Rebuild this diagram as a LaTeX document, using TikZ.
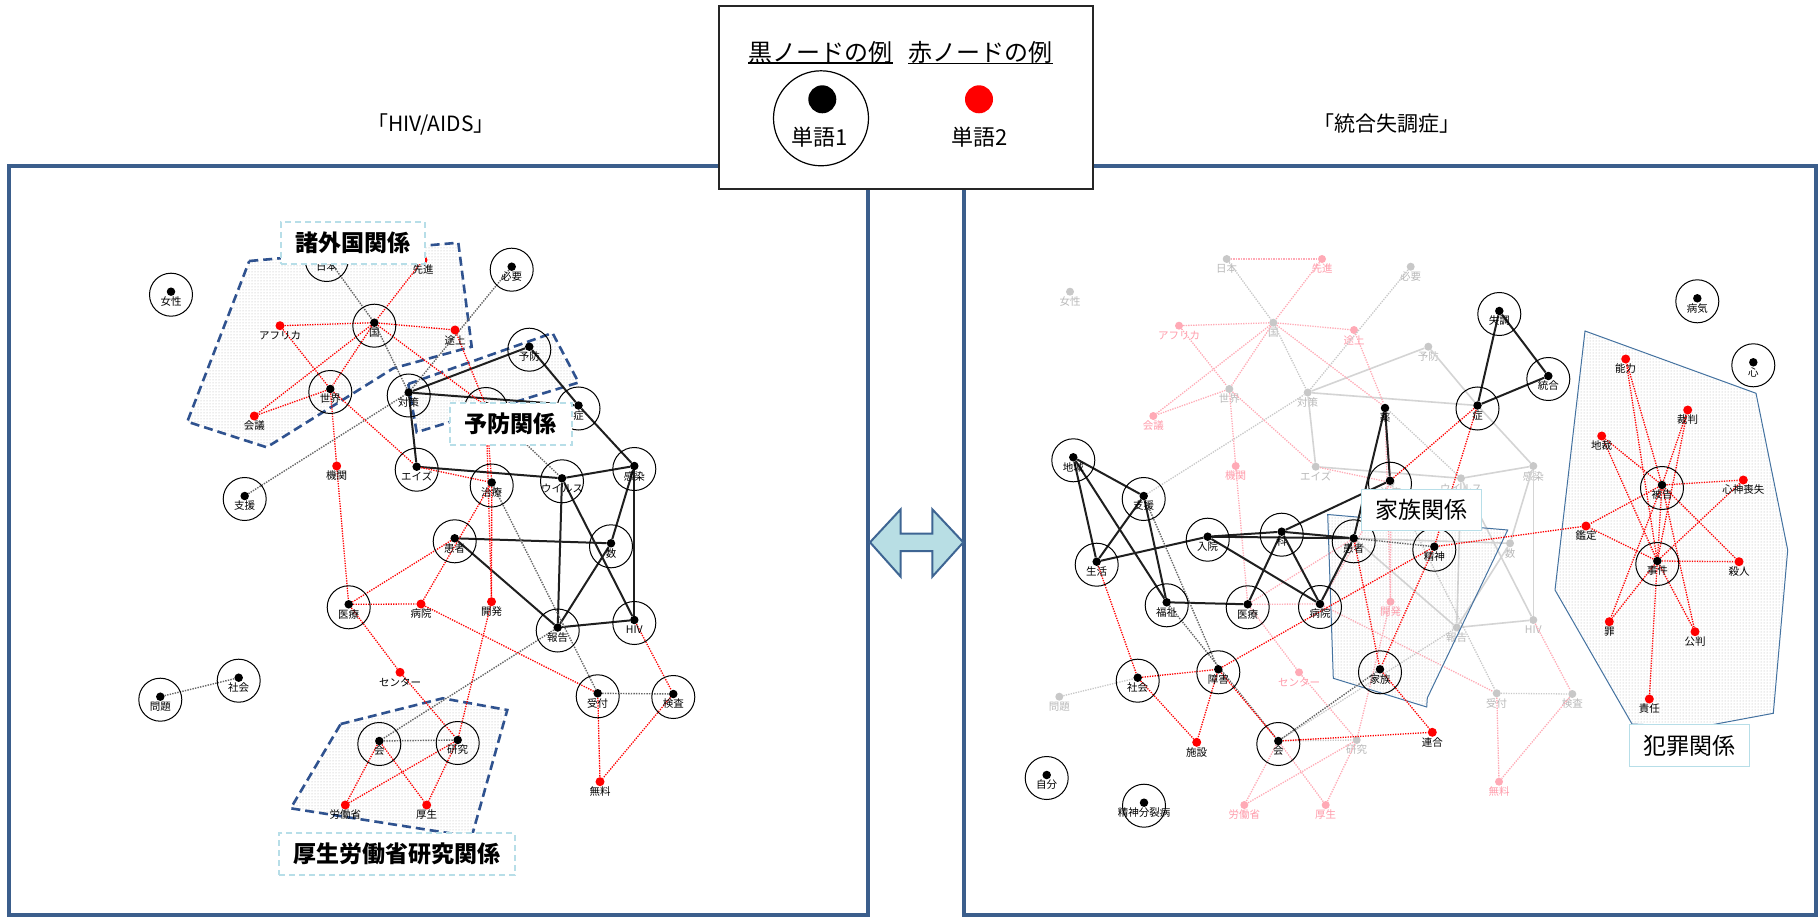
\documentclass[tikz,border=0pt]{standalone}
\usepackage{fontspec}
\setmainfont{Noto Sans CJK JP}
\usetikzlibrary{patterns}
\definecolor{frameblue}{RGB}{59,94,140}
\definecolor{polyblue}{RGB}{47,82,143}
\definecolor{boxblue}{RGB}{183,222,232}
\definecolor{polyR}{RGB}{68,114,160}
\definecolor{arrowfill}{RGB}{184,222,228}
\definecolor{arrowline}{RGB}{62,101,147}
\definecolor{fgray}{RGB}{200,200,200}
\definecolor{fgraytext}{RGB}{185,185,185}
\definecolor{fpink}{RGB}{255,170,182}
\definecolor{fpinktext}{RGB}{255,155,170}
\definecolor{fline}{RGB}{212,212,212}
\pgfdeclarelayer{bgw}\pgfdeclarelayer{fade}\pgfdeclarelayer{poly}\pgfdeclarelayer{edges}\pgfdeclarelayer{top}
\pgfsetlayers{bgw,fade,poly,edges,main,top}
% ---------- node lists ----------
\def\LB{josei/171/291.7/女性, nihon/326.7/257/日本, hitsuyo/511.7/266.7/必要, kuni/374.3/322.7/国, yobo/529.3/346.7/予防, sekai/330.3/389/世界, taisaku/408.7/392.5/対策, sho/578.5/405.5/症, eizu/416.7/466.7/エイズ, chiryo/491.7/482.5/治療, virus/562/478.3/ウイルス, kansen/634.3/466/感染, shien/244.7/496/支援, kanja/454.7/538.3/患者, su/611/543.3/数, iryo/348.7/604.3/医療, hokoku/557.7/627.5/報告, hiv/634.3/620/HIV, shakai/238.7/677.7/社会, mondai/160.3/696.7/問題, uketsuke/597.7/693.3/受付, kensa/673.3/694/検査, kai/379.3/741/会, kenkyu/457.7/740/研究}
\def\LR{senshin/423/260/先進, afurika/280/325.7/アフリカ, tojo/455/330/途上, kaigi/254.3/416/会議, kikan/336.7/466/機関, byoin/421/604/病院, kaihatsu/491.5/601.7/開発, center/400/672.3/センター, rodosho/345.3/805/労働省, kosei/426.7/805/厚生, muryo/600/781.7/無料}
\def\FB{josei/171/291.7/女性, nihon/327.7/259/日本, hitsuyo/511.7/266.7/必要, kuni/374.3/322.7/国, yobo/529.3/346.7/予防, sekai/330.3/389/世界, taisaku/408.7/392.5/対策, eizu/416.7/466.7/エイズ, chiryo/491.7/482.5/治療, virus/562/478.3/ウイルス, kansen/634.3/466/感染, su/611/543.3/数, hokoku/557.7/627.5/報告, hiv/634.3/620/HIV, mondai/160.3/696.7/問題, uketsuke/597.7/693.3/受付, kensa/673.3/694/検査, kenkyu/457.7/740/研究}
\def\FR{senshin/423/259/先進, afurika/280/325.7/アフリカ, tojo/455/330/途上, kaigi/254.3/416/会議, kikan/336.7/466/機関, kaihatsu/491.5/601.7/開発, center/400/672.3/センター, rodosho/345.3/805/労働省, kosei/426.7/805/厚生, muryo/600/781.7/無料}
\def\FA{sho/578.5/405.5, shien/244.7/496, kanja/454.7/538.3, iryo/348.7/604.3, shakai/238.7/677.7, kai/379.3/741, kusuri/486/407, byoin/421/604}
\def\RB{shitcho/1499.3/311/失調, togo/1548.3/376/統合, sho/1477.5/405.5/症, chiiki/1073.3/457.3/地域, shien/1143.7/496/支援, nyuin/1207.7/536.7/入院, ka/1281.7/531.7/科, kanja/1353.7/538.3/患者, seishin/1434.3/546.7/精神, seikatsu/1096.7/561.7/生活, fukushi/1166.7/602.3/福祉, iryo/1247.7/604.3/医療, byoin/1320/604/病院, shakai/1137.7/677.7/社会, shogai/1218.3/669.3/障害, kazoku/1380/669.3/家族, kai/1278.3/741/会, jibun/1046.7/775/自分, seishinbunretsu/1144/802.7/精神分裂病, byoki/1697.3/298.3/病気, kokoro/1753.3/362.3/心, hikoku/1662/485/被告, jiken/1657.3/561/事件}
\def\RR{shisetsu/1196.7/742.3/施設, rengo/1432.3/732.3/連合, kantei/1586/526/鑑定, noryoku/1625.7/359/能力, saiban/1687.7/410/裁判, chisai/1601.7/436/地裁, shinshin/1743.3/480/心神喪失, satsujin/1739/561.7/殺人, tsumi/1609.3/621.7/罪, kohan/1695/631.7/公判, sekinin/1649.3/699/責任}
% ---------- edge lists ----------
\def\LBS{taisaku/yobo, taisaku/sho, yobo/sho, taisaku/eizu, eizu/virus, virus/kansen, sho/kansen, kansen/su, kansen/hiv, virus/hokoku, virus/hiv, kanja/su, kanja/hokoku, su/hokoku, hokoku/hiv}
\def\LGD{nihon/kuni, kuni/taisaku, hitsuyo/taisaku, shien/taisaku, kusuri/virus, chiryo/uketsuke, hokoku/kai, kai/kenkyu, uketsuke/kensa, mondai/shakai}
\def\LRD{nihon/senshin, senshin/kuni, afurika/kuni, kuni/tojo, kuni/kaigi, kuni/sekai, kuni/kusuri, tojo/kusuri, afurika/sekai, sekai/kaigi, sekai/kikan, sekai/eizu, eizu/chiryo, kusuri/chiryo, chiryo/kaihatsu, kusuri/kaihatsu, chiryo/byoin, kanja/iryo, iryo/byoin, kikan/iryo, iryo/center, center/kenkyu, byoin/uketsuke, kaihatsu/kenkyu, kai/rodosho, kai/kosei, kenkyu/rodosho, kenkyu/kosei, hiv/kensa, uketsuke/muryo, kensa/muryo}
\def\RBS{shitcho/sho, shitcho/togo, sho/togo, kusuri/katei, kusuri/kanja, chiiki/shien, chiiki/seikatsu, chiiki/fukushi, shien/seikatsu, shien/fukushi, seikatsu/nyuin, nyuin/ka, nyuin/kanja, ka/kanja, ka/katei, nyuin/byoin, ka/iryo, ka/byoin, fukushi/iryo, byoin/kanja}
\def\RGD{shien/shogai, fukushi/kai, kanja/seishin, kai/kazoku}
\def\RRD{sho/katei, sho/seishin, seikatsu/shakai, shakai/shogai, shakai/shisetsu, shogai/shisetsu, shogai/kai, shogai/seishin, seishin/kantei, kanja/kazoku, seishin/kazoku, kazoku/rengo, kai/rengo, hikoku/noryoku, hikoku/saiban, hikoku/chisai, hikoku/shinshin, hikoku/kantei, hikoku/satsujin, hikoku/tsumi, hikoku/kohan, hikoku/jiken, jiken/noryoku, jiken/saiban, jiken/chisai, jiken/shinshin, jiken/kantei, jiken/satsujin, jiken/tsumi, jiken/kohan, jiken/sekinin}

\begin{document}
\begin{tikzpicture}[x=1pt,y=-1pt,
  bdot/.style={circle,fill=black,inner sep=0pt,minimum size=8.5pt},
  rdot/.style={circle,fill=red,inner sep=0pt,minimum size=9pt},
  bcirc/.style={circle,draw=black,line width=1pt,inner sep=0pt,minimum size=43pt},
  nlab/.style={font=\fontsize{10.5}{11}\selectfont,inner sep=0pt,text=black},
  fbdot/.style={circle,fill=fgray,inner sep=0pt,minimum size=8pt},
  frdot/.style={circle,fill=fpink,inner sep=0pt,minimum size=8pt},
  fnone/.style={circle,inner sep=0pt,minimum size=8pt},
  fblab/.style={nlab,text=fgraytext},
  frlab/.style={nlab,text=fpinktext},
  bsolid/.style={line width=2pt,black!88},
  gdots/.style={line width=1.4pt,black!60,dash pattern=on 1.4pt off 1.2pt},
  rdots/.style={line width=1.3pt,red,dash pattern=on 1.3pt off 1.2pt},
  fsolid/.style={line width=1.6pt,fline},
  fgdots/.style={line width=1.3pt,fgray,dash pattern=on 1.3pt off 1.2pt},
  frdots/.style={line width=1.3pt,fpink,dash pattern=on 1.3pt off 1.2pt},
  grpL/.style={pattern=dots,pattern color=gray!60,draw=polyblue,line width=2.6pt,dash pattern=on 9pt off 5pt},
  grpR/.style={pattern=dots,pattern color=gray!60,draw=polyR,line width=1pt},
  boxL/.style={draw=boxblue,fill=white,line width=2pt,dash pattern=on 6pt off 4pt,inner sep=0pt,font=\fontsize{23}{24}\selectfont\bfseries},
  boxR/.style={draw=boxblue,fill=white,line width=1.2pt,inner sep=0pt,font=\fontsize{23}{24}\selectfont},
  frame/.style={draw=frameblue,line width=4pt},
  ttl/.style={font=\fontsize{21}{22}\selectfont,inner sep=0pt}
]
\useasboundingbox (0,0) rectangle (1818,917);
\begin{pgfonlayer}{bgw}
\fill[white] (0,0) rectangle (1818,917);
\end{pgfonlayer}

% ---------- frames and titles ----------
\draw[frame] (9.3,165.8) rectangle (868.3,915);
\draw[frame] (964.3,165.8) rectangle (1815.5,915);
\node[ttl] (t1) at (431,124) {「HIV/AIDS」};
\node[ttl] (t2) at (1387,124) {「統合失調症」};

% ---------- double arrow ----------
\draw[fill=arrowfill,draw=arrowline,line width=2pt,line join=miter]
  (870,542.3) -- (900.7,509.3) -- (900.7,533.5) -- (932.3,533.5) -- (932.3,509.3)
  -- (963.3,542.3) -- (932.3,576.7) -- (932.3,551) -- (900.7,551) -- (900.7,576.7) -- cycle;

% ---------- LEFT graph nodes ----------
\foreach \n/\x/\y/\t in \LB {
  \node[bcirc] (L-\n-c) at (\x,\y+3) {};
  \node[bdot] (L-\n) at (\x,\y) {};
  \node[nlab] (L-\n-l) at (\x,\y+10) {\t};
}
\node[bcirc] (L-kusuri-c) at (486,409) {};
\node[bdot] (L-kusuri) at (486,406) {};
\foreach \n/\x/\y/\t in \LR {
  \node[rdot] (L-\n) at (\x,\y) {};
  \node[nlab] (L-\n-l) at (\x,\y+10) {\t};
}
\begin{pgfonlayer}{edges}
\foreach \a/\b in \LBS {\draw[bsolid] (L-\a) -- (L-\b);}
\foreach \a/\b in \LGD {\draw[gdots] (L-\a) -- (L-\b);}
\foreach \a/\b in \LRD {\draw[rdots] (L-\a) -- (L-\b);}
\end{pgfonlayer}

% ---------- RIGHT faded copy ----------
\begin{pgfonlayer}{fade}
\foreach \n/\x/\y/\t in \FB {
  \node[fbdot] (F-\n) at (\x+899,\y) {};
  \node[fblab] (F-\n-l) at (\x+899,\y+10) {\t};
}
\foreach \n/\x/\y/\t in \FR {
  \node[frdot] (F-\n) at (\x+899,\y) {};
  \node[frlab] (F-\n-l) at (\x+899,\y+10) {\t};
}
\foreach \n/\x/\y in \FA {
  \node[fnone] (F-\n) at (\x+899,\y) {};
}
\foreach \a/\b in \LBS {\draw[fsolid] (F-\a) -- (F-\b);}
\foreach \a/\b in \LGD {\draw[fgdots] (F-\a) -- (F-\b);}
\foreach \a/\b in \LRD {\draw[frdots] (F-\a) -- (F-\b);}
\end{pgfonlayer}

% ---------- RIGHT graph nodes ----------
\foreach \n/\x/\y/\t in \RB {
  \node[bcirc] (R-\n-c) at (\x,\y+3) {};
  \node[bdot] (R-\n) at (\x,\y) {};
  \node[nlab] (R-\n-l) at (\x,\y+10) {\t};
}
\node[bcirc] (R-katei-c) at (1390,483.7) {};
\node[bdot] (R-katei) at (1390,480.7) {};
\node[bdot] (R-kusuri) at (1385,408) {};
\node[nlab] (R-kusuri-l) at (1385,418) {薬};
\foreach \n/\x/\y/\t in \RR {
  \node[rdot] (R-\n) at (\x,\y) {};
  \node[nlab] (R-\n-l) at (\x,\y+10) {\t};
}
\begin{pgfonlayer}{edges}
\foreach \a/\b in \RBS {\draw[bsolid] (R-\a) -- (R-\b);}
\foreach \a/\b in \RGD {\draw[gdots] (R-\a) -- (R-\b);}
\foreach \a/\b in \RRD {\draw[rdots] (R-\a) -- (R-\b);}
\end{pgfonlayer}

% ---------- group polygons ----------
\begin{pgfonlayer}{poly}
\draw[grpL] (249.3,261) -- (458.3,242.7) -- (471.7,346.7) -- (393.3,368.3) -- (266.7,447.3) -- (187.3,421.7) -- cycle;
\draw[grpL] (408.3,384) -- (552.5,333) -- (578.6,382.5) -- (416.7,432.2) -- cycle;
\draw[grpL] (340.7,724) -- (442.7,698.3) -- (507.3,710) -- (471.7,836.7) -- (290.7,808.3) -- cycle;
\draw[grpR] (1327.7,514.5) -- (1507.7,530) -- (1427.3,698) -- (1426.7,707) -- (1333.3,678.3) -- cycle;
\draw[grpR] (1585,331) -- (1756,393.3) -- (1787.7,550) -- (1773.3,713.3) -- (1700,727) -- (1632,724) -- (1555,590) -- cycle;
\end{pgfonlayer}

% ---------- group labels and legend ----------
\begin{pgfonlayer}{top}
\node[boxL,minimum width=144pt,minimum height=42pt] (gA) at (352.7,243) {諸外国関係};
\node[boxL,minimum width=121.7pt,minimum height=42.6pt] (gB) at (510.8,424) {予防関係};
\node[boxL,minimum width=235.7pt,minimum height=41.7pt] (gC) at (397.2,854.2) {厚生労働省研究関係};
\node[boxR,minimum width=120pt,minimum height=41.4pt] (gD) at (1421.7,510) {家族関係};
\node[boxR,minimum width=120pt,minimum height=42.4pt] (gE) at (1689.3,745.5) {犯罪関係};

\node[draw=black!85,fill=white,line width=1.3pt,minimum width=374pt,minimum height=183pt,inner sep=0pt] (lg) at (906,97.5) {};
\node[inner sep=0pt,font=\fontsize{24}{25}\selectfont] (lg1) at (820.5,52) {黒ノードの例};
\node[inner sep=0pt,font=\fontsize{24}{25}\selectfont] (lg2) at (980.5,52) {赤ノードの例};
\draw[line width=1.5pt] (lg1.south west) -- (lg1.south east);
\draw[line width=1.5pt] (lg2.south west) -- (lg2.south east);
\node[circle,draw=black,line width=1.2pt,minimum size=95pt,inner sep=0pt] (lgc) at (821,118.3) {};
\node[circle,fill=black,minimum size=28pt,inner sep=0pt] (lgb) at (822.3,99.3) {};
\node[circle,fill=red,minimum size=28pt,inner sep=0pt] (lgr) at (979,99.3) {};
\node[inner sep=0pt,font=\fontsize{22}{23}\selectfont] (lgt1) at (820,137) {単語1};
\node[inner sep=0pt,font=\fontsize{22}{23}\selectfont] (lgt2) at (980,137) {単語2};
\end{pgfonlayer}
\end{tikzpicture}
\end{document}
